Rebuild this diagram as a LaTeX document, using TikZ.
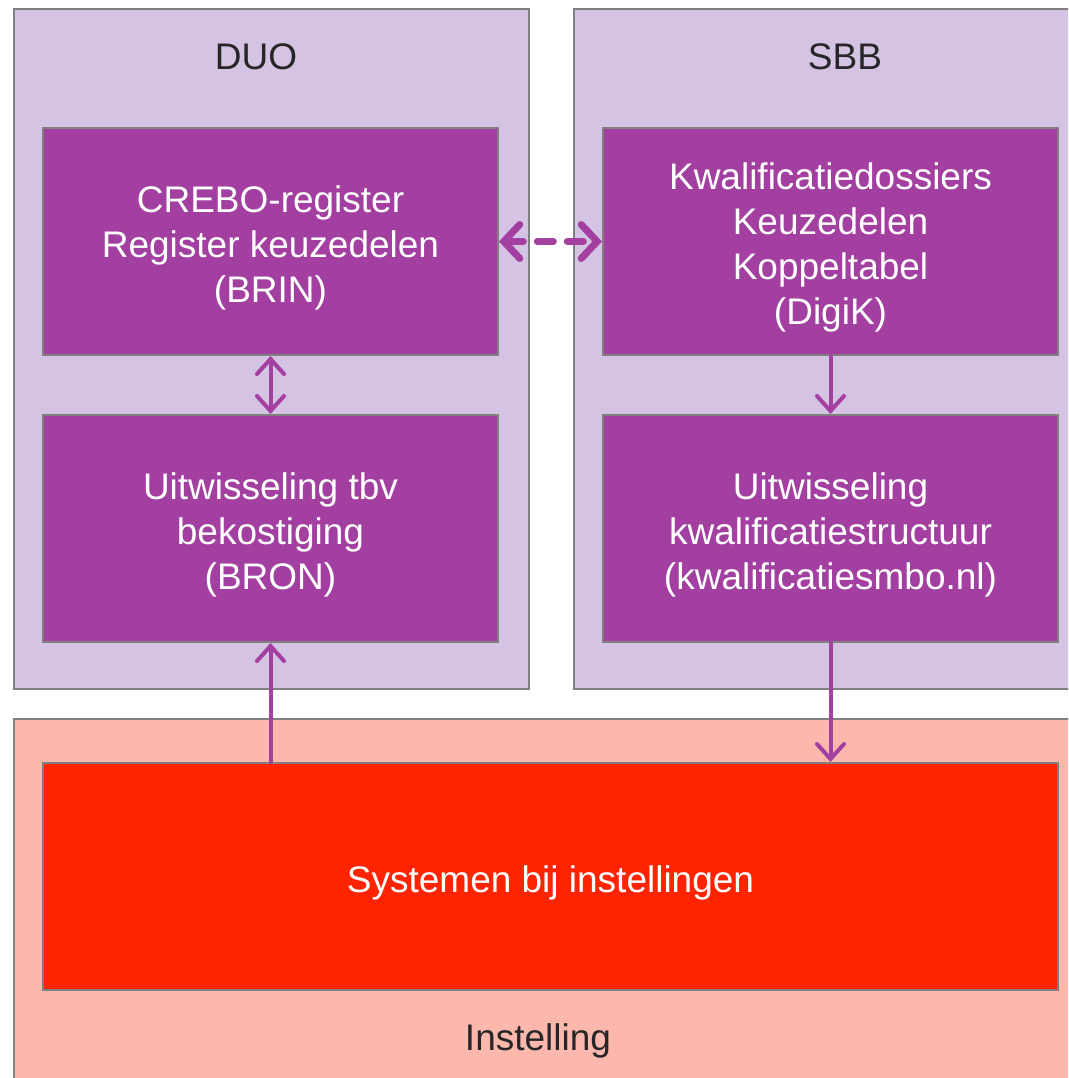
\documentclass[tikz,border=0pt]{standalone}
\usepackage{fontspec}
\setmainfont{Liberation Sans}
\usetikzlibrary{arrows.meta}
\definecolor{lila}{HTML}{D5C3E3}
\definecolor{paars}{HTML}{A23FA0}
\definecolor{rood}{HTML}{FF2400}
\definecolor{zalm}{HTML}{FDB8AE}
\definecolor{rand}{HTML}{808080}
\tikzset{group/.style={rectangle, draw=rand, line width=2pt, anchor=north west}}
\tikzset{sys/.style = {
   rectangle, draw=rand, line width=2pt,
   fill=paars,
   minimum width=455pt, minimum height=227pt,
   inner sep=0pt
}}
\tikzset{systext/.style={text=white, align=center, yshift=-6pt,
   font=\fontsize{37}{45}\selectfont}}
\tikzset{title/.style={text=black!85, font=\fontsize{37}{45}\selectfont}}
\tikzset{flow/.style={draw=paars, line width=4pt, line cap=round,
   arrows={-Straight Barb[length=15pt, width=27pt, line cap=round]}}}

\begin{document}
\begin{tikzpicture}[x=1pt, y=-1pt]

    \useasboundingbox (0,0) rectangle (1068,1078);
    \clip (0,0) rectangle (1068,1078);

    % organisaties
    \node[group, fill=lila, minimum width=515pt, minimum height=680pt] (duo) at (13,8) {};
    \node[group, fill=lila, minimum width=530pt, minimum height=680pt] (sbb) at (573,8) {};
    \node[group, fill=zalm, minimum width=1080pt, minimum height=400pt] (inst) at (13,718) {};

    \node[title] (duo-t) at (256,57) {DUO};
    \node[title] (sbb-t) at (845,57) {SBB};
    \node[title] (inst-t) at (538,1041) {Instelling};

    % systemen
    \node[sys, label={[systext]center:{CREBO-register\\Register keuzedelen\\(BRIN)}}] (brin) at (270.5,241.5) {};
    \node[sys, label={[systext]center:{Kwalificatiedossiers\\Keuzedelen\\Koppeltabel\\(DigiK)}}] (digik) at (830.5,241.5) {};
    \node[sys, label={[systext]center:{Uitwisseling tbv\\bekostiging\\(BRON)}}] (bron) at (270.5,528.5) {};
    \node[sys, label={[systext]center:{Uitwisseling\\kwalificatiestructuur\\(kwalificatiesmbo.nl)}}] (kmbo) at (830.5,528.5) {};
    \node[sys, fill=rood, minimum width=1015pt, label={[systext]center:Systemen bij instellingen}] (inst-sys) at (550.5,876.5) {};

    % koppelingen
    \draw[flow, line width=7pt, dash pattern=on 16pt off 14pt,
          arrows={Straight Barb[length=16pt, width=34pt, line cap=round]-Straight Barb[length=16pt, width=34pt, line cap=round]}]
          (brin.east) -- (digik.west);
    \draw[flow, arrows={Straight Barb[length=15pt, width=27pt, line cap=round]-Straight Barb[length=15pt, width=27pt, line cap=round]}]
          (brin.south) -- (bron.north);
    \draw[flow] (digik.south) -- (kmbo.north);
    \draw[flow] (inst-sys.north -| bron.south) -- (bron.south);
    \draw[flow] (kmbo.south) -- (inst-sys.north -| kmbo.south);

  \end{tikzpicture}
\end{document}
